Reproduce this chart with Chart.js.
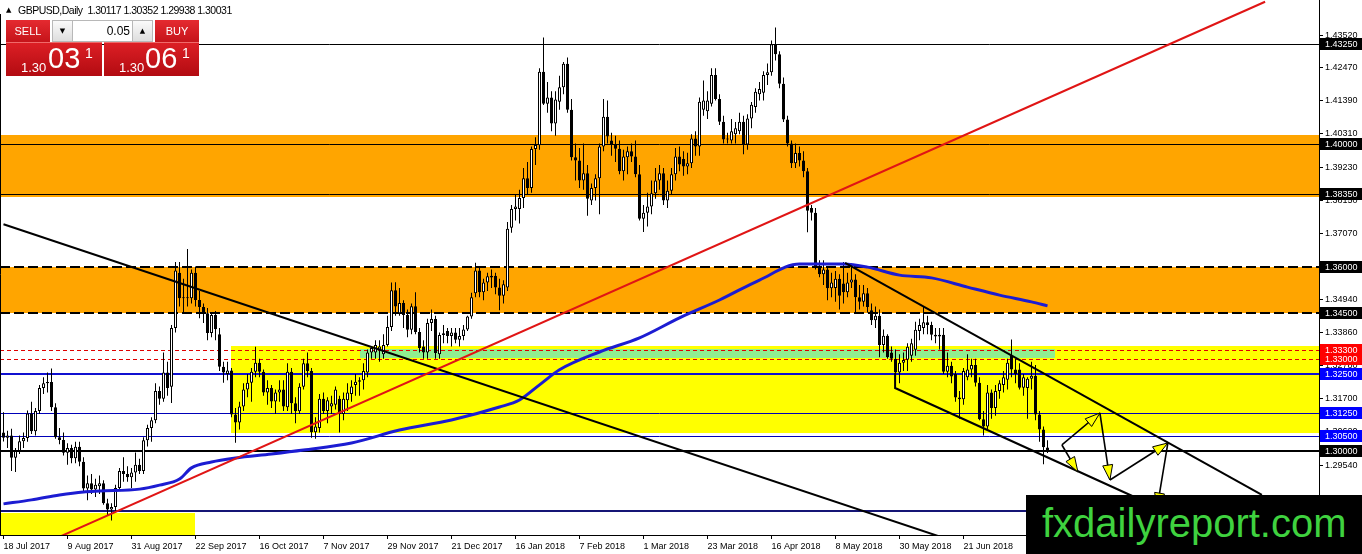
<!DOCTYPE html>
<html><head><meta charset="utf-8">
<script src="https://cdn.jsdelivr.net/npm/chart.js@4.4.1/dist/chart.umd.min.js"></script>
<style>
html,body{margin:0;padding:0;background:#fff;}
#wrap{position:relative;width:1362px;height:554px;overflow:hidden;font-family:'Liberation Sans',Arial,sans-serif;}
canvas{display:block;position:absolute;left:0;top:0;}
.abs{position:absolute;}
.hdr{left:18px;top:3px;font-size:10.5px;line-height:14px;color:#000;white-space:pre;letter-spacing:-0.5px;}
.tri{left:6px;top:4px;font-size:7px;line-height:12px;color:#000;font-family:'DejaVu Sans',sans-serif;}
.btn{background:linear-gradient(#e52a30,#c5141a);color:#fff;font-size:11px;line-height:22px;text-align:center;height:22px;}
.ctl{background:#fff;border:1px solid #b8b8b8;box-sizing:border-box;height:22px;}
.arr{position:absolute;top:0;width:19px;height:20px;background:linear-gradient(#fafafa,#dedede);font-size:7px;line-height:20px;text-align:center;color:#000;font-family:'DejaVu Sans',sans-serif;}
.val{position:absolute;left:20px;right:22px;top:0;height:20px;line-height:20px;font-size:12px;text-align:right;color:#000;}
.price{background:linear-gradient(#dc1f25,#b20b11);color:#fff;height:34px;border-top:1px solid #f06a6a;box-sizing:border-box;}
.price span{position:absolute;white-space:nowrap;}
.sm{font-size:13px;line-height:13px;top:18px;}
.bg{font-size:29px;line-height:29px;top:1px;}
.sp{font-size:14px;line-height:14px;top:3px;}
.wm{left:1026px;top:495px;width:336px;height:59px;background:#000;}
.wmt{left:1042px;top:503px;font-size:40px;line-height:40px;color:#3fd23f;white-space:nowrap;}
</style></head><body>
<div id="wrap">
<canvas id="c" width="1362" height="554"></canvas>
<div class="abs tri">▲</div>
<div class="abs hdr">GBPUSD,Daily  1.30117 1.30352 1.29938 1.30031</div>
<div class="abs btn" style="left:6px;top:20px;width:44px;">SELL</div>
<div class="abs ctl" style="left:52px;top:20px;width:101px;">
  <div class="arr" style="left:0;border-right:1px solid #b8b8b8;">▼</div>
  <div class="val">0.05</div>
  <div class="arr" style="right:0;border-left:1px solid #b8b8b8;">▲</div>
</div>
<div class="abs btn" style="left:155px;top:20px;width:44px;">BUY</div>
<div class="abs price" style="left:6px;top:42px;width:96px;">
  <span class="sm" style="left:15px;">1.30</span><span class="bg" style="left:42px;">03</span><span class="sp" style="left:79px;">1</span>
</div>
<div class="abs price" style="left:104px;top:42px;width:95px;">
  <span class="sm" style="left:15px;">1.30</span><span class="bg" style="left:41px;">06</span><span class="sp" style="left:78px;">1</span>
</div>
<div class="abs wm"></div>
<div class="abs wmt">fxdailyreport.com</div>
</div>
<script>
// ---------- DATA (GBPUSD Daily, bar 0 = 18 Jul 2017) ----------
const opens = [1.3060,1.3043,1.3050,1.2978,1.3000,1.3032,1.3042,1.3122,1.3064,1.3130,
1.3205,1.3220,1.3224,1.3142,1.3045,1.3036,1.2994,1.3010,1.2976,1.3014,
1.2965,1.2878,1.2895,1.2875,1.2885,1.2895,1.2830,1.2810,1.2818,1.2880,
1.2935,1.2925,1.2915,1.2930,1.2955,1.2935,1.3035,1.3075,1.3100,1.3195,
1.3170,1.3255,1.3209,1.3400,1.3580,1.3497,1.3500,1.3497,1.3580,1.3491,
1.3468,1.3448,1.3384,1.3442,1.3380,1.3274,1.3250,1.3262,1.3119,1.3093,
1.3145,1.3200,1.3222,1.3258,1.3287,1.3258,1.3190,1.3205,1.3161,1.3190,
1.3200,1.3142,1.3258,1.3155,1.3129,1.3209,1.3285,1.3260,1.3061,1.3075,
1.3170,1.3130,1.3145,1.3150,1.3170,1.3120,1.3165,1.3185,1.3215,1.3225,
1.3230,1.3255,1.3320,1.3320,1.3330,1.3315,1.3345,1.3403,1.3523,1.3448,
1.3481,1.3442,1.3394,1.3471,1.3387,1.3340,1.3320,1.3416,1.3429,1.3315,
1.3377,1.3390,1.3374,1.3385,1.3362,1.3374,1.3395,1.3437,1.3513,1.3587,
1.3516,1.3548,1.3564,1.3570,1.3532,1.3505,1.3532,1.3726,1.3787,1.3787,
1.3823,1.3887,1.3855,1.3982,1.3994,1.4233,1.4129,1.4150,1.4065,1.4136,
1.4183,1.4259,1.4110,1.3955,1.3945,1.3880,1.3903,1.3815,1.3855,1.3887,
1.3990,1.4087,1.4010,1.3995,1.3983,1.3910,1.3955,1.3975,1.3958,1.3900,
1.3755,1.3775,1.3795,1.3838,1.3880,1.3903,1.3815,1.3846,1.3900,1.3958,
1.3950,1.3925,1.3936,1.4016,1.3990,1.4110,1.4105,1.4129,1.4223,1.4145,
1.4071,1.4013,1.4010,1.4030,1.4040,1.4071,1.3997,1.4081,1.4119,1.4160,
1.4165,1.4223,1.4232,1.4323,1.4290,1.4194,1.4078,1.4000,1.3936,1.3969,
1.3945,1.3910,1.3790,1.3775,1.3598,1.3575,1.3590,1.3529,1.3530,1.3560,
1.3545,1.3516,1.3548,1.3558,1.3500,1.3485,1.3513,1.3458,1.3425,1.3440,
1.3345,1.3375,1.3320,1.3300,1.3255,1.3287,1.3297,1.3310,1.3329,1.3390,
1.3400,1.3419,1.3410,1.3378,1.3372,1.3378,1.3258,1.3277,1.3250,1.3174,
1.3168,1.3240,1.3265,1.3280,1.3222,1.3103,1.3080,1.3190,1.3140,1.3195,
1.3215,1.3232,1.3310,1.3265,1.3265,1.3206,1.3205,1.3235,1.3245,1.3119,
1.3070,1.30117];
const highs = [1.3126,1.3066,1.3072,1.3010,1.3050,1.3060,1.3132,1.3160,1.3140,1.3215,
1.3240,1.3255,1.3268,1.3155,1.3075,1.3060,1.3025,1.3020,1.3030,1.3030,
1.2980,1.2920,1.2925,1.2910,1.2920,1.2905,1.2845,1.2830,1.2890,1.2945,
1.2980,1.2950,1.2945,1.2995,1.2975,1.3045,1.3085,1.3110,1.3220,1.3210,
1.3320,1.3290,1.3410,1.3615,1.3615,1.3560,1.3657,1.3590,1.3600,1.3520,
1.3480,1.3465,1.3450,1.3455,1.3400,1.3290,1.3290,1.3270,1.3140,1.3160,
1.3220,1.3250,1.3270,1.3339,1.3300,1.3265,1.3230,1.3215,1.3200,1.3230,
1.3230,1.3285,1.3270,1.3175,1.3220,1.3300,1.3320,1.3270,1.3110,1.3185,
1.3190,1.3175,1.3180,1.3210,1.3180,1.3190,1.3220,1.3230,1.3250,1.3240,
1.3285,1.3330,1.3340,1.3360,1.3360,1.3380,1.3440,1.3548,1.3549,1.3530,
1.3490,1.3460,1.3480,1.3516,1.3400,1.3360,1.3430,1.3460,1.3440,1.3385,
1.3410,1.3400,1.3400,1.3400,1.3400,1.3410,1.3440,1.3515,1.3612,1.3600,
1.3560,1.3580,1.3590,1.3580,1.3560,1.3555,1.3745,1.3800,1.3835,1.3850,
1.3920,1.3940,1.3990,1.4020,1.4245,1.4345,1.4200,1.4170,1.4170,1.4220,
1.4265,1.4280,1.4145,1.4000,1.3985,1.4000,1.3930,1.3870,1.3900,1.4000,
1.4145,1.4140,1.4035,1.4025,1.4010,1.3980,1.3990,1.4000,1.4010,1.3930,
1.3800,1.3840,1.3880,1.3920,1.3930,1.3920,1.3880,1.3920,1.3985,1.3990,
1.3975,1.3970,1.4030,1.4040,1.4150,1.4205,1.4170,1.4245,1.4245,1.4160,
1.4090,1.4035,1.4080,1.4070,1.4100,1.4090,1.4095,1.4135,1.4180,1.4200,
1.4235,1.4260,1.4335,1.4377,1.4300,1.4215,1.4090,1.4010,1.4000,1.3990,
1.3975,1.3920,1.3800,1.3790,1.3620,1.3620,1.3600,1.3580,1.3585,1.3575,
1.3615,1.3580,1.3610,1.3575,1.3540,1.3540,1.3530,1.3480,1.3470,1.3460,
1.3395,1.3380,1.3340,1.3330,1.3315,1.3320,1.3350,1.3365,1.3420,1.3430,
1.3470,1.3440,1.3420,1.3400,1.3400,1.3400,1.3320,1.3290,1.3260,1.3195,
1.3270,1.3315,1.3300,1.3300,1.3240,1.3130,1.3215,1.3200,1.3215,1.3230,
1.3260,1.3300,1.3363,1.3300,1.3285,1.3250,1.3240,1.3290,1.3280,1.3130,
1.3080,1.30352];
const lows = [1.3031,1.3010,1.2935,1.2932,1.2990,1.3010,1.3030,1.3055,1.3050,1.3120,
1.3185,1.3190,1.3130,1.3040,1.3022,1.2985,1.2955,1.2960,1.2960,1.2950,
1.2865,1.2840,1.2860,1.2850,1.2860,1.2825,1.2790,1.2774,1.2805,1.2870,
1.2900,1.2900,1.2880,1.2900,1.2925,1.2925,1.3015,1.3030,1.3090,1.3150,
1.3160,1.3180,1.3156,1.3385,1.3470,1.3450,1.3470,1.3480,1.3470,1.3432,
1.3416,1.3360,1.3370,1.3360,1.3260,1.3222,1.3230,1.3110,1.3027,1.3070,
1.3130,1.3175,1.3160,1.3240,1.3240,1.3180,1.3150,1.3140,1.3120,1.3160,
1.3130,1.3130,1.3120,1.3090,1.3120,1.3200,1.3240,1.3043,1.3040,1.3060,
1.3120,1.3090,1.3120,1.3135,1.3060,1.3100,1.3130,1.3160,1.3180,1.3180,
1.3200,1.3240,1.3300,1.3300,1.3290,1.3300,1.3340,1.3390,1.3440,1.3440,
1.3400,1.3370,1.3380,1.3380,1.3320,1.3300,1.3300,1.3390,1.3300,1.3300,
1.3350,1.3350,1.3340,1.3350,1.3340,1.3360,1.3390,1.3430,1.3500,1.3500,
1.3490,1.3520,1.3530,1.3510,1.3458,1.3480,1.3520,1.3710,1.3750,1.3740,
1.3790,1.3835,1.3840,1.3930,1.3980,1.4125,1.4100,1.4040,1.4025,1.4110,
1.4160,1.4100,1.3945,1.3880,1.3855,1.3850,1.3765,1.3800,1.3815,1.3770,
1.3975,1.4000,1.3960,1.3940,1.3900,1.3880,1.3900,1.3940,1.3890,1.3750,
1.3712,1.3730,1.3770,1.3820,1.3850,1.3800,1.3790,1.3835,1.3880,1.3910,
1.3895,1.3900,1.3920,1.3960,1.3960,1.4090,1.4080,1.4120,1.4140,1.4060,
1.4000,1.4000,1.4000,1.4000,1.4030,1.3965,1.3980,1.4050,1.4100,1.4140,
1.4140,1.4190,1.4220,1.4270,1.4180,1.4070,1.3990,1.3920,1.3920,1.3925,
1.3890,1.3711,1.3750,1.3590,1.3565,1.3540,1.3490,1.3500,1.3485,1.3460,
1.3480,1.3500,1.3530,1.3450,1.3460,1.3470,1.3450,1.3410,1.3400,1.3305,
1.3320,1.3300,1.3290,1.3205,1.3220,1.3260,1.3260,1.3290,1.3310,1.3360,
1.3380,1.3380,1.3360,1.3350,1.3330,1.3250,1.3240,1.3220,1.3160,1.3105,
1.3150,1.3230,1.3240,1.3210,1.3100,1.3050,1.3070,1.3105,1.3115,1.3170,
1.3190,1.3200,1.3240,1.3220,1.3200,1.3180,1.3105,1.3200,1.3100,1.3030,
1.2957,1.29938];
const closes = [1.3043,1.3050,1.2978,1.3000,1.3032,1.3042,1.3122,1.3064,1.3130,1.3205,
1.3220,1.3224,1.3142,1.3045,1.3036,1.2994,1.3010,1.2976,1.3014,1.2965,
1.2878,1.2895,1.2875,1.2890,1.2895,1.2830,1.2810,1.2818,1.2880,1.2935,
1.2925,1.2915,1.2930,1.2955,1.2935,1.3035,1.3075,1.3100,1.3195,1.3170,
1.3255,1.3205,1.3400,1.3587,1.3497,1.3500,1.3497,1.3580,1.3491,1.3468,
1.3452,1.3384,1.3442,1.3396,1.3274,1.3255,1.3262,1.3119,1.3093,1.3145,
1.3200,1.3222,1.3258,1.3287,1.3258,1.3190,1.3205,1.3161,1.3190,1.3200,
1.3145,1.3258,1.3155,1.3129,1.3209,1.3285,1.3260,1.3061,1.3080,1.3170,
1.3130,1.3165,1.3155,1.3200,1.3120,1.3170,1.3190,1.3210,1.3225,1.3230,
1.3260,1.3320,1.3335,1.3345,1.3340,1.3345,1.3403,1.3523,1.3470,1.3481,
1.3442,1.3394,1.3471,1.3387,1.3335,1.3320,1.3416,1.3429,1.3319,1.3377,
1.3383,1.3374,1.3385,1.3362,1.3374,1.3395,1.3437,1.3500,1.3587,1.3516,
1.3548,1.3568,1.3570,1.3532,1.3505,1.3542,1.3723,1.3787,1.3795,1.3823,
1.3887,1.3855,1.3982,1.3995,1.4233,1.4129,1.4150,1.4065,1.4143,1.4183,
1.4259,1.4110,1.3955,1.3945,1.3880,1.3903,1.3820,1.3855,1.3887,1.3990,
1.4087,1.4023,1.3995,1.3983,1.3910,1.3958,1.3975,1.3958,1.3900,1.3755,
1.3775,1.3795,1.3838,1.3880,1.3903,1.3815,1.3846,1.3900,1.3958,1.3932,
1.3925,1.3936,1.4016,1.3990,1.4136,1.4140,1.4140,1.4223,1.4145,1.4071,
1.4013,1.4015,1.4040,1.4050,1.4071,1.3997,1.4081,1.4126,1.4168,1.4177,
1.4223,1.4232,1.4323,1.4290,1.4194,1.4078,1.4000,1.3936,1.3969,1.3945,
1.3910,1.3781,1.3775,1.3598,1.3575,1.3590,1.3529,1.3548,1.3560,1.3505,
1.3516,1.3548,1.3558,1.3500,1.3485,1.3513,1.3468,1.3425,1.3440,1.3345,
1.3375,1.3305,1.3300,1.3255,1.3287,1.3296,1.3339,1.3350,1.3394,1.3410,
1.3419,1.3410,1.3378,1.3372,1.3378,1.3258,1.3277,1.3242,1.3174,1.3168,
1.3260,1.3265,1.3280,1.3222,1.3103,1.3080,1.3190,1.3140,1.3195,1.3220,
1.3240,1.3287,1.3265,1.3250,1.3206,1.3240,1.3235,1.3245,1.3119,1.3070,
1.3012,1.30031];

// moving average (at these bars)
const maBars = [0,7,14,20,24,34,39,44,47,52,58,67,75,87,99,112,124,129,134,139,149,159,169,179,189,199,210,216,224,232,241,249,257,261];
const maVals = [1.2828,1.2841,1.2857,1.2867,1.2870,1.2876,1.2889,1.2909,1.2945,1.2964,1.2977,1.2990,1.3003,1.3026,1.3068,1.3101,1.3143,1.3166,1.3215,1.3264,1.3322,1.3368,1.3433,1.3491,1.3556,1.3608,1.3608,1.3598,1.3572,1.3563,1.3533,1.3507,1.3485,1.3472];

// x-axis date labels (every 16 bars)
const dateTickBars = [0,16,32,48,64,80,96,112,128,144,160,176,192,208,224,240];
const dateLabels = ['18 Jul 2017','9 Aug 2017','31 Aug 2017','22 Sep 2017','16 Oct 2017','7 Nov 2017','29 Nov 2017','21 Dec 2017','16 Jan 2018','7 Feb 2018','1 Mar 2018','23 Mar 2018','16 Apr 2018','8 May 2018','30 May 2018','21 Jun 2018'];

// price scale tick labels
const priceTicks = [1.4352,1.4247,1.4139,1.4031,1.3923,1.3815,1.3707,1.3599,1.3494,1.3386,1.3278,1.3170,1.3062,1.2954,1.2846];

// horizontal levels
const levelPrices = [1.4325,1.4000,1.3835,1.3600,1.3450,1.3330,1.3300,1.3250,1.3125,1.3050,1.3000,1.2805];
const levelKinds  = ['thin','thin','thin','dash','dash','reddash','reddash','blue2','blue1','blue1','black2','navy'];

// labelled level boxes on the price axis
const boxPrices = [1.4325,1.4000,1.3835,1.3600,1.3450,1.3330,1.3300,1.3250,1.3125,1.3050,1.3000];
const boxKinds  = ['k','k','k','k','k','r','r','b','b','b','k'];

// zones: top price, bottom price, start bar, end bar (null = chart edge)
const zoneTop    = [1.4027,1.3600,1.3342,1.3332,1.2798];
const zoneBottom = [1.3826,1.3450,1.3059,1.3302,1.2600];
const zoneStart  = [null,null,56.9,89.1,null];
const zoneEnd    = [null,null,null,262.9,47.9];
const zoneKinds  = ['orange','orange','yellow','green','yellow'];

// trend lines [bar, price] pairs
const redLine    = [[14,1.2721],[315.4,1.4461]];
const blackLine1 = [[0,1.37376],[235,1.27177]];
const channelTop = [[210.4,1.36114],[314.6,1.28569]];
const channelBot = [[222.9,1.32537],[222.9,1.32049],[286.6,1.28277]];

// arrows [fromBar, fromPrice, toBar, toPrice]
const arrows = [
  [264.6,1.30196,274.1,1.31236],
  [264.6,1.30196,268.6,1.29318],
  [274.1,1.31236,276.6,1.29057],
  [276.6,1.29057,291.1,1.30261],
  [291.1,1.30261,288.4,1.28147]
];

// ---------- STYLES ----------
const zoneColors = {orange:'#ffa500', yellow:'#ffff00', green:'#90ee90'};
const levelStyles = {
  thin:{c:'#000',w:1,d:[]}, dash:{c:'#000',w:2,d:[10,4]}, reddash:{c:'#e00000',w:1,d:[4,3]},
  blue2:{c:'#1010d0',w:2,d:[]}, blue1:{c:'#0000b8',w:1,d:[]}, black2:{c:'#000',w:2,d:[]}, navy:{c:'#151575',w:2,d:[]}
};
const boxColors = {k:'#000', r:'#ff0000', b:'#0000ff'};

Chart.defaults.font.family = "'Liberation Sans', Arial, sans-serif";
Chart.defaults.color = '#000';

const toPts = arr => arr.map(p => ({x:p[0], y:p[1]}));

const overlay = {
  id:'overlay',
  beforeDatasetsDraw(chart){
    const {ctx, chartArea:a, scales:{x,y}} = chart;
    ctx.save();
    ctx.beginPath(); ctx.rect(a.left,a.top,a.right-a.left,a.bottom-a.top); ctx.clip();
    zoneTop.forEach((t,k)=>{
      const x1 = zoneStart[k]==null ? a.left : x.getPixelForValue(zoneStart[k]);
      const x2 = zoneEnd[k]==null ? a.right : x.getPixelForValue(zoneEnd[k]);
      const y1 = y.getPixelForValue(t), y2 = y.getPixelForValue(zoneBottom[k]);
      ctx.fillStyle = zoneColors[zoneKinds[k]];
      ctx.fillRect(Math.round(x1), Math.round(y1), Math.round(x2)-Math.round(x1), Math.round(y2)-Math.round(y1));
    });
    levelPrices.forEach((p,k)=>{
      const s = levelStyles[levelKinds[k]];
      let yy = Math.round(y.getPixelForValue(p));
      if (s.w % 2 === 1) yy += 0.5;
      ctx.strokeStyle = s.c; ctx.lineWidth = s.w; ctx.setLineDash(s.d);
      ctx.beginPath(); ctx.moveTo(a.left, yy); ctx.lineTo(a.right, yy); ctx.stroke();
    });
    ctx.setLineDash([]);
    ctx.strokeStyle = '#000'; ctx.lineWidth = 1;
    ctx.beginPath(); ctx.moveTo(0.5, 14); ctx.lineTo(0.5, a.bottom); ctx.stroke();
    ctx.restore();
  },
  afterDatasetsDraw(chart){
    const {ctx, chartArea:a, scales:{x,y}} = chart;
    ctx.save();
    ctx.beginPath(); ctx.rect(a.left,a.top,a.right-a.left,a.bottom-a.top); ctx.clip();
    arrows.forEach(ar=>{
      const x0 = x.getPixelForValue(ar[0]), y0 = y.getPixelForValue(ar[1]);
      const x1 = x.getPixelForValue(ar[2]), y1 = y.getPixelForValue(ar[3]);
      const dx = x1-x0, dy = y1-y0, L = Math.hypot(dx,dy), ux = dx/L, uy = dy/L;
      ctx.strokeStyle = '#000'; ctx.lineWidth = 1.6;
      ctx.beginPath(); ctx.moveTo(x0,y0); ctx.lineTo(x1,y1); ctx.stroke();
      const bx = x1-ux*15, by = y1-uy*15, px = -uy*5, py = ux*5;
      ctx.beginPath(); ctx.moveTo(x1,y1); ctx.lineTo(bx+px,by+py); ctx.lineTo(bx-px,by-py); ctx.closePath();
      ctx.fillStyle = '#ffff00'; ctx.fill();
      ctx.lineWidth = 1; ctx.stroke();
    });
    ctx.restore();
  },
  afterDraw(chart){
    const {ctx, chartArea:a, scales:{y}} = chart;
    ctx.save();
    ctx.font = "9px 'Liberation Sans', Arial, sans-serif";
    ctx.textBaseline = 'middle'; ctx.textAlign = 'left';
    boxPrices.forEach((p,k)=>{
      const yc = Math.round(y.getPixelForValue(p));
      ctx.fillStyle = boxColors[boxKinds[k]];
      ctx.fillRect(a.right+1, yc-6, chart.width-a.right-1, 12);
      ctx.fillStyle = '#fff';
      ctx.fillText(p.toFixed(5), a.right+6, yc+0.5);
    });
    ctx.restore();
  }
};

const yMax = 1.44667, yMin = 1.27268;

new Chart(document.getElementById('c'), {
  type:'bar',
  data:{
    datasets:[
      {type:'bar', label:'wick', data: opens.map((o,i)=>({x:i, y:[lows[i], highs[i]]})),
       backgroundColor:'#000', borderWidth:0, barThickness:1, stack:'candle', inflateAmount:0, order:4},
      {type:'bar', label:'body', data: opens.map((o,i)=>({x:i, y:[o, closes[i]]})),
       backgroundColor: opens.map((o,i)=> closes[i] >= o ? '#ffffff' : '#000000'),
       borderColor:'#000', borderWidth:1, borderSkipped:false, barThickness:3, minBarLength:1,
       stack:'candle', inflateAmount:0, order:3},
      {type:'line', label:'MA', data: maBars.map((b,i)=>({x:b, y:maVals[i]})),
       borderColor:'#1c1cd2', borderWidth:3, pointRadius:0, cubicInterpolationMode:'monotone', clip:0, order:2},
      {type:'line', label:'red', data: toPts(redLine), borderColor:'#e01515', borderWidth:2, pointRadius:0, clip:0, order:1},
      {type:'line', label:'tl1', data: toPts(blackLine1), borderColor:'#000', borderWidth:2, pointRadius:0, clip:0, order:1},
      {type:'line', label:'ch1', data: toPts(channelTop), borderColor:'#000', borderWidth:2, pointRadius:0, clip:0, order:1},
      {type:'line', label:'ch2', data: toPts(channelBot), borderColor:'#000', borderWidth:2, pointRadius:0, clip:0, order:1}
    ]
  },
  options:{
    responsive:false, animation:false, devicePixelRatio:1, events:[],
    layout:{padding:0},
    plugins:{legend:{display:false}, tooltip:{enabled:false}},
    scales:{
      x:{type:'linear', min:-0.875, max:328.875, position:'bottom', offset:false,
         afterBuildTicks: s => { s.ticks = dateTickBars.map(v=>({value:v})); },
         afterFit: s => { s.height = 19; s.paddingLeft = 0; s.paddingRight = 0; },
         ticks:{autoSkip:false, maxRotation:0, minRotation:0, align:'start', padding:2, color:'#000',
                font:{size:9}, callback:(v,i)=>dateLabels[i]},
         grid:{offset:false, drawOnChartArea:false, drawTicks:true, tickLength:4, color:'#000'},
         border:{display:true, color:'#000', width:1}},
      y:{type:'linear', position:'right', min:yMin, max:yMax, stacked:false, beginAtZero:false,
         afterBuildTicks: s => { s.ticks = priceTicks.map(v=>({value:v})); },
         afterFit: s => { s.width = 43; s.paddingTop = 0; s.paddingBottom = 0; },
         ticks:{padding:2, color:'#000', font:{size:9}, callback:v=>Number(v).toFixed(5)},
         grid:{drawOnChartArea:false, drawTicks:true, tickLength:4, color:'#000'},
         border:{display:true, color:'#000', width:1}}
    }
  },
  plugins:[overlay]
});
</script>
</body></html>
